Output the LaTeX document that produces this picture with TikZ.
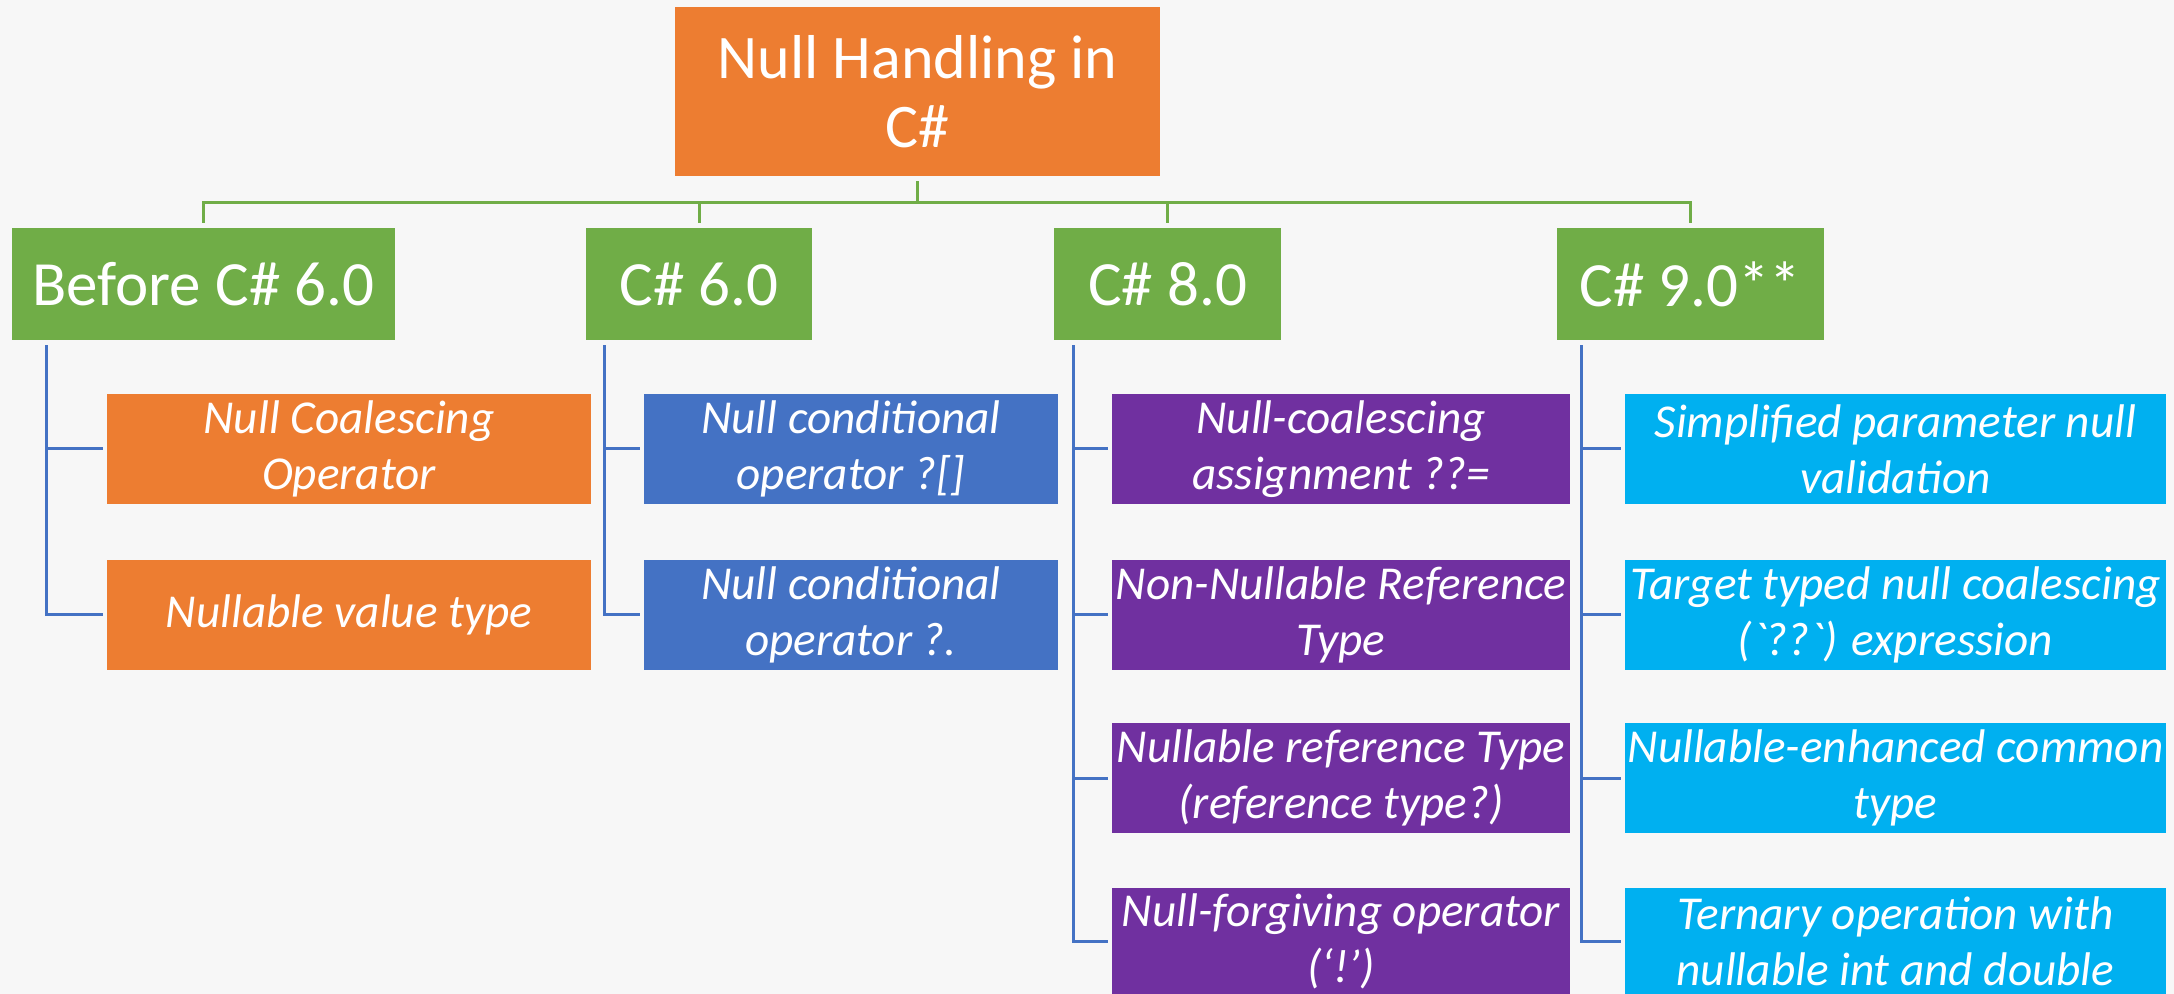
\documentclass[tikz,border=0pt]{standalone}
\usepackage{fontspec}
\setmainfont{Carlito}
\definecolor{bgcol}{HTML}{F7F7F7}
\definecolor{orangebox}{HTML}{ED7D31}
\definecolor{greenbox}{HTML}{70AD47}
\definecolor{bluebox}{HTML}{4472C4}
\definecolor{purplebox}{HTML}{7030A0}
\definecolor{cyanbox}{HTML}{00B0F0}
\tikzset{
  topic/.style={fill=orangebox, text=white, align=center, inner sep=0pt,
    font=\fontsize{31}{34.5}\selectfont, minimum width=242.5pt, minimum height=84.5pt},
  version/.style={fill=greenbox, text=white, inner sep=0pt,
    font=\fontsize{31.5}{36}\selectfont, minimum height=56pt},
  feature/.style={text=white, align=center, inner sep=0pt,
    font=\fontsize{23.6}{28}\selectfont\itshape, minimum height=55pt},
  lastrow/.style={minimum height=53pt},
  bus/.style={draw=greenbox, line width=1.5pt, shorten <=2.5pt, shorten >=2.5pt},
  spine/.style={draw=bluebox, line width=1.5pt, shorten <=2.5pt, shorten >=2pt}
}
\begin{document}
\begin{tikzpicture}[x=0.5pt,y=-0.5pt]
  \fill[bgcol] (0,0) rectangle (2174,994);
  \useasboundingbox (0,0) rectangle (2174,994);
  % root
  \node[topic] (root) at (917.5,91.5) {Null Handling in\\C\#};
  % versions
  \node[version, minimum width=191.5pt] (b4) at (203.5,284) {Before C\# 6.0};
  \node[version, minimum width=113pt] (c6) at (699,284) {C\# 6.0};
  \node[version, minimum width=113.5pt] (c8) at (1167.5,284) {C\# 8.0};
  \node[version, minimum width=133.5pt] (c9) at (1690.5,284) {C\# 9.0**};
  % before C# 6.0
  \node[feature, fill=orangebox, minimum width=242pt] (b4a) at (349,449) {Null Coalescing\\Operator};
  \node[feature, fill=orangebox, minimum width=242pt] (b4b) at (349,614.5) {Nullable value type};
  % C# 6.0
  \node[feature, fill=bluebox, minimum width=207pt] (c6a) at (851,449) {Null conditional\\operator ?[]};
  \node[feature, fill=bluebox, minimum width=207pt] (c6b) at (851,614.5) {Null conditional\\operator ?.};
  % C# 8.0
  \node[feature, fill=purplebox, minimum width=229pt] (c8a) at (1341,449) {Null-coalescing\\assignment ??=};
  \node[feature, fill=purplebox, minimum width=229pt] (c8b) at (1341,614.5) {Non-Nullable Reference\\Type};
  \node[feature, fill=purplebox, minimum width=229pt] (c8c) at (1341,778) {Nullable reference Type\\(reference type?)};
  \node[feature, lastrow, fill=purplebox, minimum width=229pt] (c8d) at (1341,941) {Null-forgiving operator\\(‘!’)};
  % C# 9.0
  \node[feature, fill=cyanbox, minimum width=270.5pt] (c9a) at (1895.5,449) {Simplified parameter null\\validation};
  \node[feature, fill=cyanbox, minimum width=270.5pt] (c9b) at (1895.5,614.5) {Target typed null coalescing\\(\textasciigrave??\textasciigrave) expression};
  \node[feature, fill=cyanbox, minimum width=270.5pt] (c9c) at (1895.5,778) {Nullable-enhanced common\\type};
  \node[feature, lastrow, fill=cyanbox, minimum width=270.5pt] (c9d) at (1895.5,941) {Ternary operation with\\nullable int and double};
  % green bus
  \foreach \v in {b4,c6,c8,c9}
    \draw[bus] (root.south) -- ++(0,26) -| (\v.north);
  % blue spines
  \foreach \k in {a,b}
    \draw[spine] ([xshift=17.5pt]b4.south west) |- (b4\k.west);
  \foreach \k in {a,b}
    \draw[spine] ([xshift=9.5pt]c6.south west) |- (c6\k.west);
  \foreach \k in {a,b,c,d}
    \draw[spine] ([xshift=10pt]c8.south west) |- (c8\k.west);
  \foreach \k in {a,b,c,d}
    \draw[spine] ([xshift=12.5pt]c9.south west) |- (c9\k.west);
\end{tikzpicture}
\end{document}
